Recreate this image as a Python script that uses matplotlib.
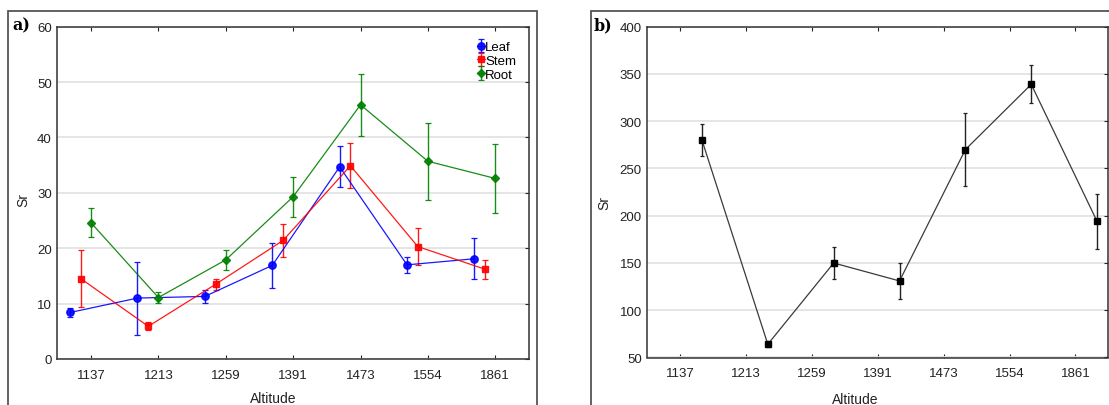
import numpy as np
import matplotlib
matplotlib.use("Agg")
import matplotlib.pyplot as plt
from matplotlib.patches import Rectangle

plt.rcParams['font.family'] = ['Liberation Sans', 'DejaVu Sans']

altitudes = ["1137", "1213", "1259", "1391", "1473", "1554", "1861"]

# Panel a: Sr in plant organs
leaf_mean = [8.4, 11.0, 11.3, 16.9, 34.7, 17.0, 18.1]
leaf_err = [0.8, 6.6, 1.2, 4.1, 3.7, 1.4, 3.7]
stem_mean = [14.5, 5.9, 13.5, 21.4, 34.9, 20.3, 16.2]
stem_err = [5.1, 0.7, 1.0, 2.9, 4.1, 3.4, 1.7]
root_mean = [24.6, 11.1, 17.9, 29.3, 45.9, 35.7, 32.6]
root_err = [2.6, 1.0, 1.8, 3.6, 5.6, 7.0, 6.3]

# Panel b: Sr in soil
soil_mean = [280, 64, 150, 131, 270, 339, 194]
soil_err = [17, 3, 17, 19.5, 39, 20, 29]

W, H = 1109, 406
fig = plt.figure(figsize=(W / 100, H / 100), dpi=100)

def box(l, t, r, b):
    return [l / W, 1 - b / H, (r - l) / W, (b - t) / H]

# Panel frames
fig.add_artist(Rectangle((8.3 / W, -0.1), (537 - 8.3) / W, 1.1 - 12 / H,
                         transform=fig.transFigure, fill=False,
                         edgecolor="#555555", linewidth=1.3))
fig.add_artist(Rectangle((591 / W, -0.1), 1.2, 1.1 - 12 / H,
                         transform=fig.transFigure, fill=False,
                         edgecolor="#555555", linewidth=1.3))

ax1 = fig.add_axes(box(57.3, 27.7, 529, 360))
ax2 = fig.add_axes(box(647.3, 27.7, 1108.3, 358.5))

x = np.arange(len(altitudes))

def style(ax, ymin, ymax, step):
    ax.set_xlim(-0.5, len(altitudes) - 0.5)
    ax.set_ylim(ymin, ymax)
    ax.set_xticks(x)
    ax.set_xticklabels(altitudes)
    ax.set_yticks(np.arange(ymin, ymax + step / 2, step))
    ax.yaxis.grid(True, color="#e3e3e3", linewidth=1.3)
    ax.set_axisbelow(True)
    ax.tick_params(axis="both", direction="in", labelsize=9.5, colors="#222222",
                   length=3, width=0.8, top=True, right=True)
    ax.tick_params(axis="x", pad=7)
    ax.tick_params(axis="y", left=False, pad=4)
    for s in ax.spines.values():
        s.set_color("#333333")
        s.set_linewidth(1.1)
    ax.set_xlabel("Altitude", fontsize=10, color="#222222")
    ax.set_ylabel("Sr", fontsize=10, color="#222222")

style(ax1, 0, 60, 10)
style(ax2, 50, 400, 50)

ax1.xaxis.set_label_coords(0.458, -0.095)
ax1.yaxis.set_label_coords(-0.058, 0.48)
ax2.xaxis.set_label_coords(0.451, -0.105)
ax2.yaxis.set_label_coords(-0.078, 0.47)

series = [
    ("Leaf", leaf_mean, leaf_err, "#0000ff", "o", 5.3, -0.31),
    ("Stem", stem_mean, stem_err, "#ff0000", "s", 4.4, -0.15),
    ("Root", root_mean, root_err, "#008000", "D", 4.0, 0.0),
]
for name, m, e, c, mk, ms, off in series:
    ax1.errorbar(x + off, m, yerr=e, color=c, marker=mk, markersize=ms,
                 linewidth=0.9, elinewidth=1.0, capsize=2.2, capthick=0.9,
                 label=name, alpha=0.9)

ax1.legend(loc="upper right", bbox_to_anchor=(0.99, 0.98), frameon=False,
           fontsize=9.5, handlelength=0.6, handletextpad=0.05,
           labelspacing=0.1, borderaxespad=0.2)

ax2.errorbar(x + 0.33, soil_mean, yerr=soil_err, color="#3a3a3a", marker="s",
             markersize=5, markerfacecolor="black", markeredgecolor="black",
             linewidth=0.9, elinewidth=1.0, capsize=1.5, capthick=0.9,
             ecolor="#222222")

fig.text(12 / W, 1 - 26 / H, "a)", fontsize=11.5, fontweight="bold",
         family="DejaVu Serif", va="center", ha="left")
fig.text(594 / W, 1 - 26 / H, "b)", fontsize=11.5, fontweight="bold",
         family="DejaVu Serif", va="center", ha="left")

fig.savefig("out.png", dpi=100)
